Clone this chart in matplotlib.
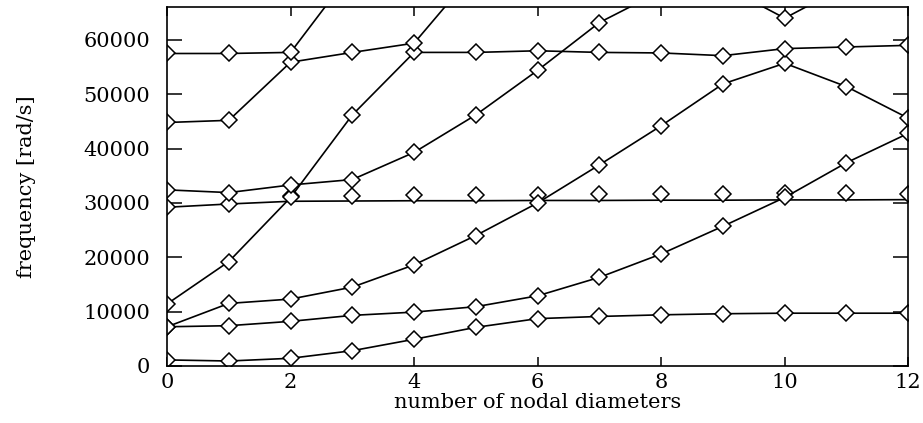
# frequency vs number of nodal diameters, open diamond markers
import numpy as np
import matplotlib.pyplot as plt

plt.rcParams['font.family'] = ['DejaVu Serif']

nd = [0, 1, 2, 3, 4, 5, 6, 7, 8, 9, 10, 11, 12]

# mode families (values in rad/s)
mode1 = [1100, 900, 1400, 2800, 4900, 7100, 8700, 9100, 9400, 9600, 9700, 9700, 9700]
mode2 = [7200, 7400, 8200, 9300, 9900, 10900, 12900, 16300, 20600, 25700, 31000, 37400, 42800]
mode3 = [7200, 11500, 12300, 14500, 18600, 24000, 30000, 37000, 44200, 51900, 55700, 51400, 45600]
mode4 = [11400, 19200, 31000, 46200, 57700, 57700, 58000, 57700, 57600, 57100, 58400, 58700, 59000]
mode5 = [32400, 31900, 33300, 34300, 39300, 46200, 54400, 63200, 69000]
mode6 = [44800, 45200, 55900, 57700, 59400, 72800]
mode7 = [57500, 57500, 57700, 72700]
mode8 = [29200, 29800, 30300, 30350, 30400, 30400, 30450, 30450, 30500, 30500, 30550, 30550, 30600]
mode8_pts = [29200, 29800, 31200, 31300, 31400, 31400, 31500, 31600, 31600, 31600, 31800, 31800, 31600]
mode9_x = [9, 10, 11]
mode9 = [70000, 64000, 70000]

fig = plt.figure(figsize=(9.23, 4.23), dpi=100)
ax = fig.add_axes([0.181, 0.135, 0.803, 0.849])

mk = dict(marker='D', markersize=8.5, markerfacecolor='white',
          markeredgecolor='black', markeredgewidth=1.1, color='black')

ax.plot(nd, mode8, color='black', lw=1.2)
ax.plot(nd, mode8_pts, linestyle='none', **mk)
for ys in [mode1, mode2, mode3, mode4, mode5, mode6, mode7]:
    ax.plot(nd[:len(ys)], ys, lw=1.2, **mk)
ax.plot(mode9_x, mode9, lw=1.2, **mk)

ax.set_xlim(0, 12)
ax.set_ylim(0, 66100)
ax.set_xticks(range(0, 13, 2))
ax.set_yticks(range(0, 60001, 10000))
ax.tick_params(axis='x', direction='in', top=True, length=6.5, width=1.1,
               pad=5, labelsize=15)
ax.tick_params(axis='y', direction='in', right=True, length=11, width=1.1,
               pad=12, labelsize=15)
for s in ax.spines.values():
    s.set_linewidth(1.2)

ax.set_xlabel('number of nodal diameters', fontsize=15, labelpad=1)
ax.set_ylabel('frequency [rad/s]', fontsize=15, labelpad=34)

fig.savefig('out.png', dpi=100)
